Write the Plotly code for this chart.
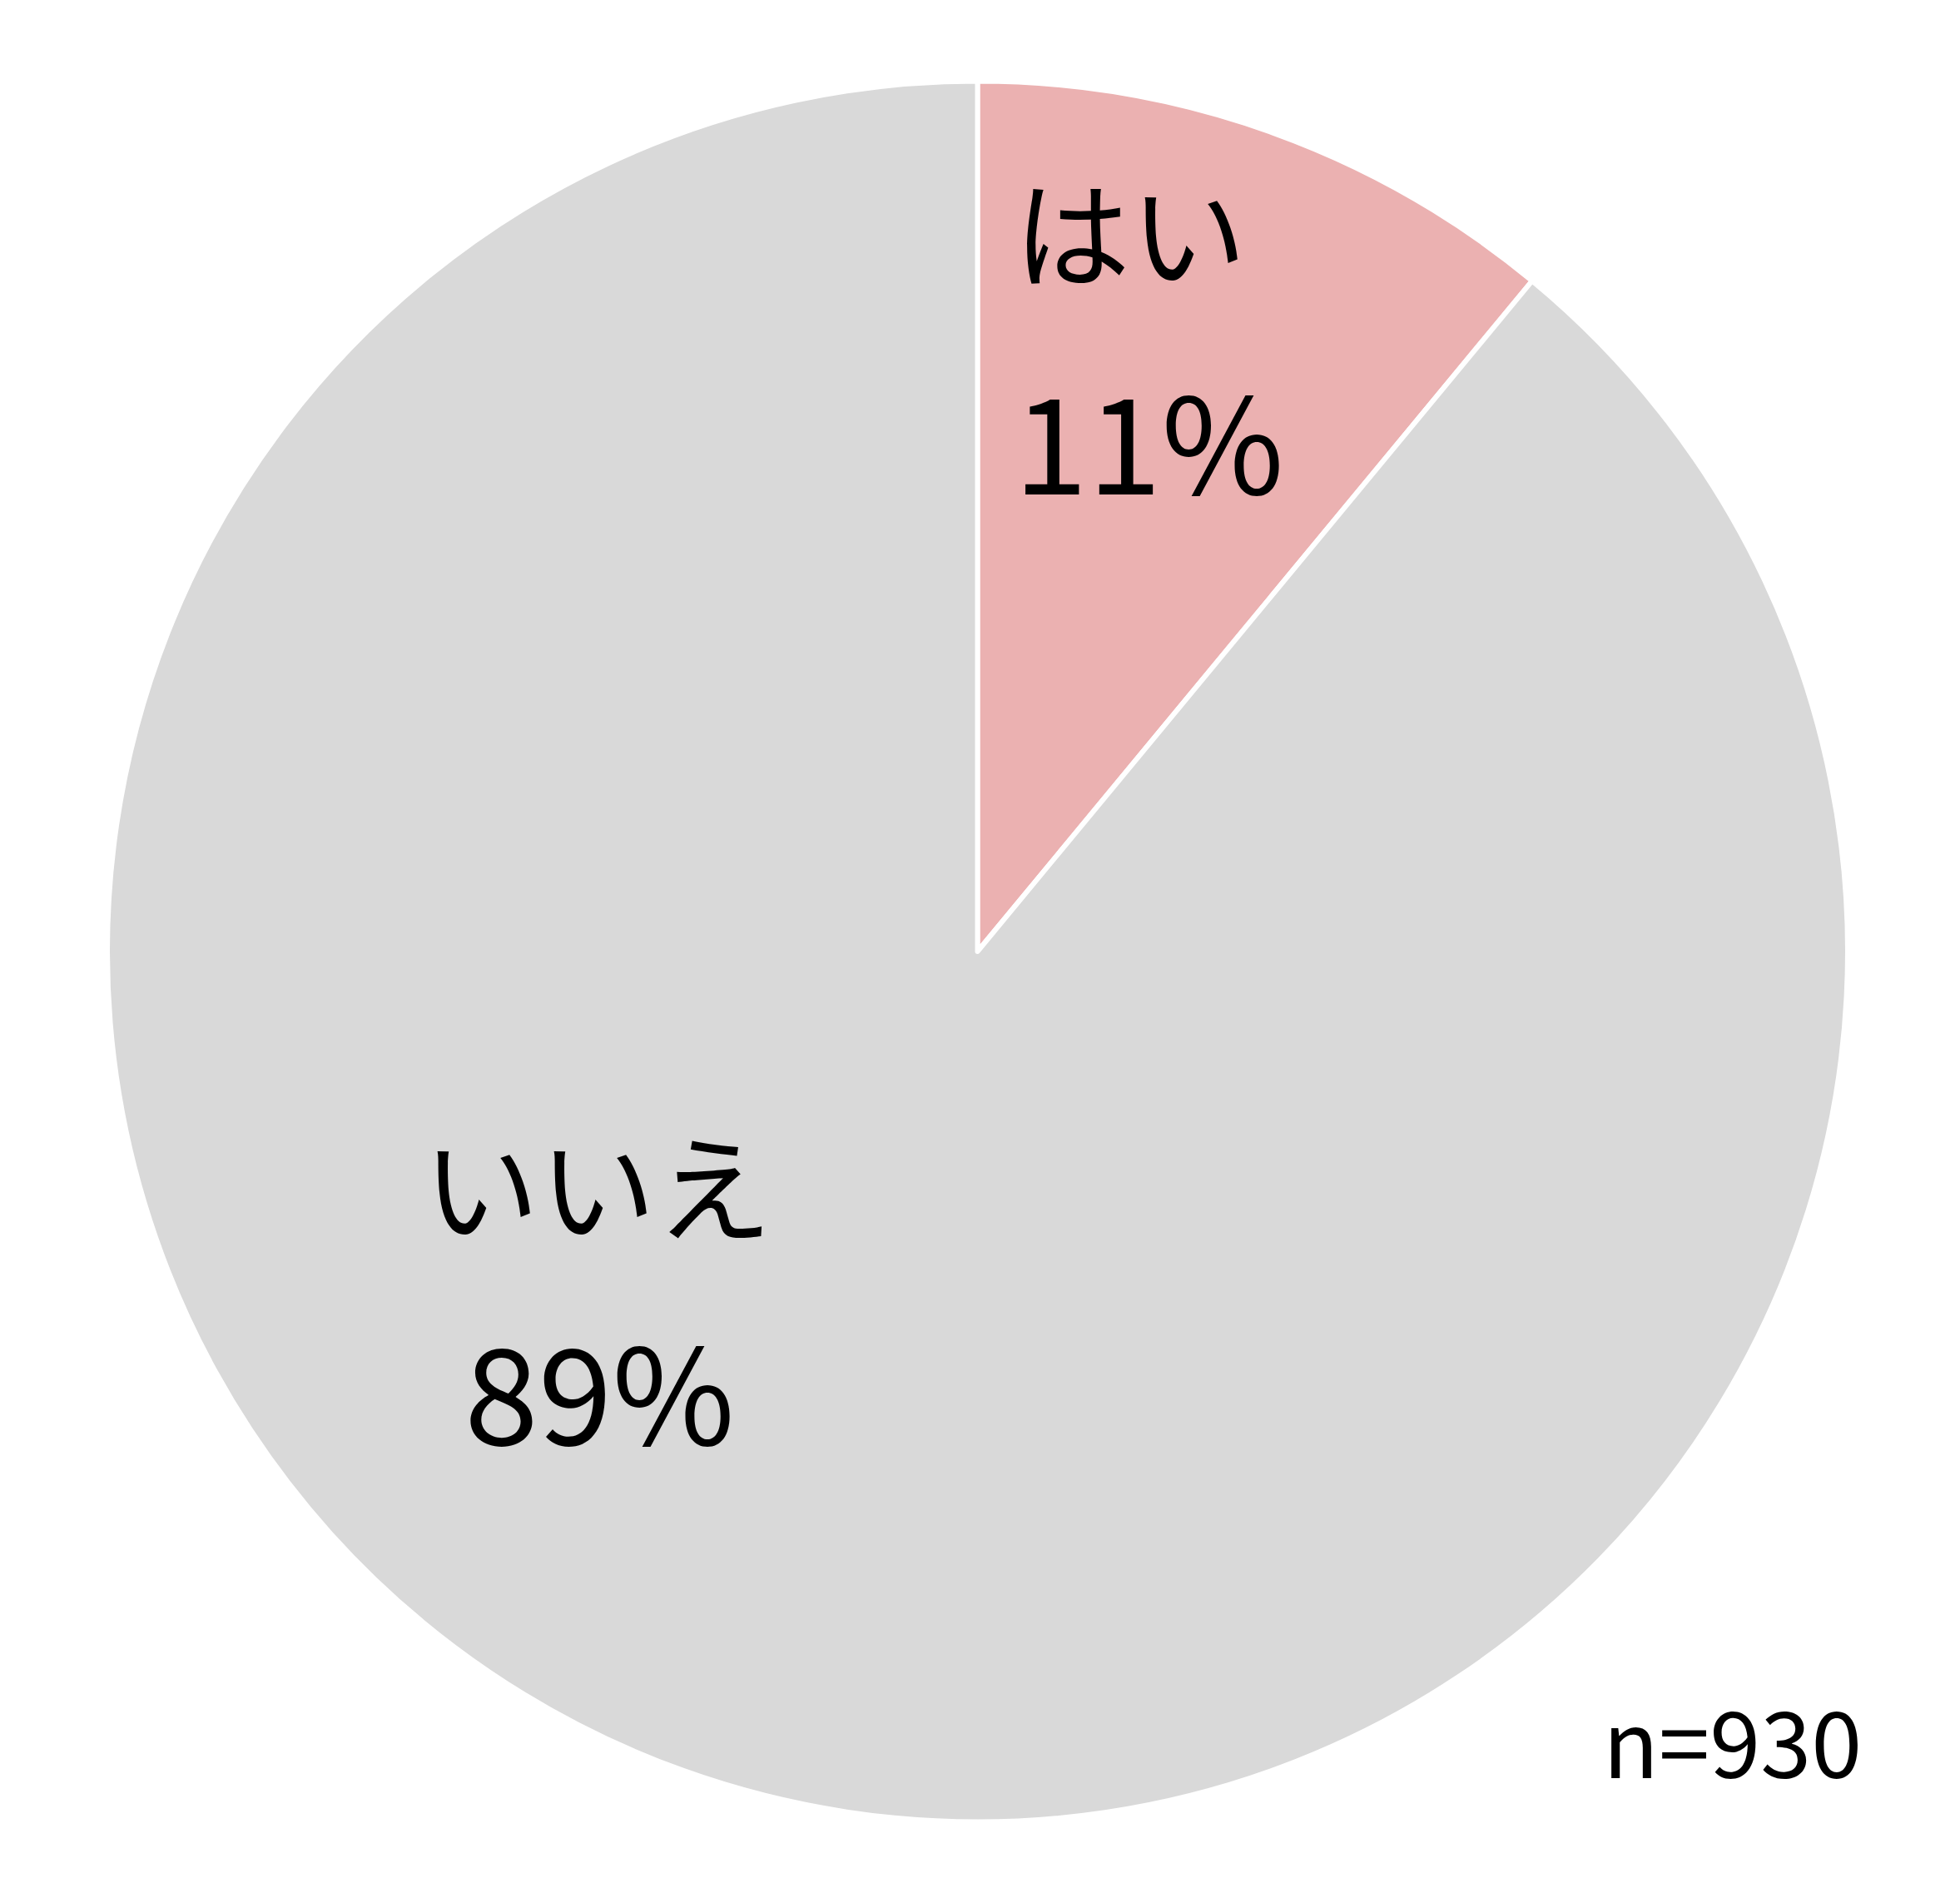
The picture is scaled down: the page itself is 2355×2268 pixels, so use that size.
import plotly.graph_objects as go

labels = ["はい", "いいえ"]
shares = [11, 89]
colors = ["#EBB1B1", "#D9D9D9"]
sample_size = 930

W, H = 2355, 2268
font_family = "Noto Sans CJK JP"

fig = go.Figure(go.Pie(
    labels=labels,
    values=shares,
    sort=False,
    direction="clockwise",
    rotation=0,
    marker=dict(colors=colors, line=dict(color="white", width=6)),
    textinfo="none",
    hoverinfo="label+percent",
    showlegend=False,
    domain=dict(x=[121 / W, 2212 / W], y=[86 / H, 2180 / H]),
))

# label positions (pixels in the 2355x2268 canvas)
label_pos = [(1350, 266, 1372, 516), (710, 1412, 712, 1658)]
for (lab, val, (lx, ly, px, py)) in zip(labels, shares, label_pos):
    fig.add_annotation(x=lx / W, y=1 - ly / H, xref="paper", yref="paper",
                       xanchor="center", yanchor="middle",
                       text=lab, showarrow=False,
                       font=dict(family=font_family, size=140, color="black"))
    fig.add_annotation(x=px / W, y=1 - py / H, xref="paper", yref="paper",
                       xanchor="center", yanchor="middle",
                       text=f"{val}%", showarrow=False,
                       font=dict(family=font_family, size=160, color="black"))

fig.add_annotation(x=2073 / W, y=1 - 2080 / H, xref="paper", yref="paper",
                   xanchor="center", yanchor="middle",
                   text=f"n={sample_size}", showarrow=False,
                   font=dict(family=font_family, size=110, color="black"))

fig.update_layout(
    width=W, height=H,
    margin=dict(l=0, r=0, t=0, b=0),
    paper_bgcolor="white",
    plot_bgcolor="white",
)

fig.write_html("out.html")
